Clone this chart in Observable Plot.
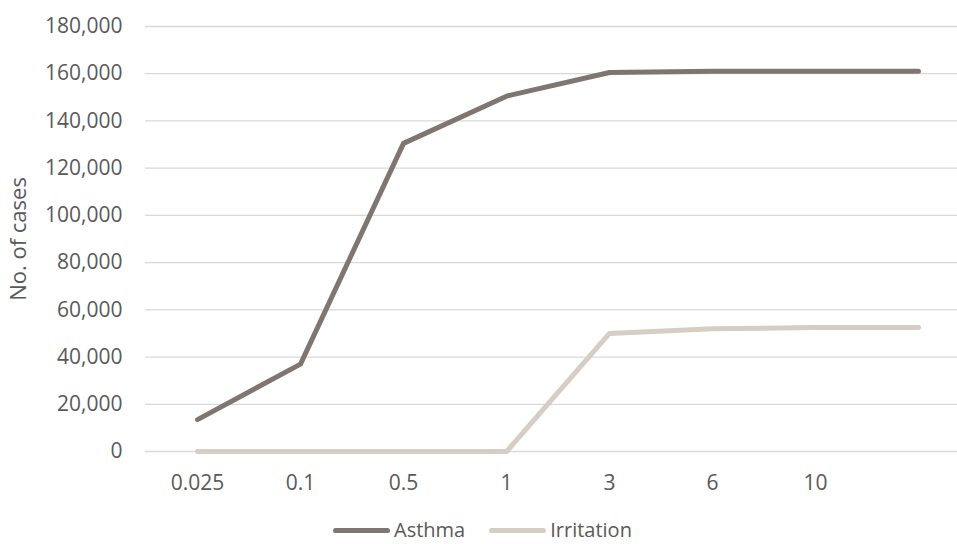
<!DOCTYPE html>
<html>
<head>
<meta charset="utf-8">
<script src="https://cdn.jsdelivr.net/npm/d3@7"></script>
<script src="https://cdn.jsdelivr.net/npm/@observablehq/plot@0.6"></script>
<style>
  html, body { margin: 0; padding: 0; background: #fff; overflow: hidden; }
  #wrap { position: relative; width: 957px; height: 544px; overflow: hidden; font-family: "Open Sans", sans-serif; }
  #legend { position: absolute; left: 333px; top: 520px; height: 20px; line-height: 20px; display: flex; align-items: center; font-size: 20px; color: #595959; }
  .item { display: flex; align-items: center; }
  .sw { width: 57px; height: 5px; border-radius: 3px; margin-right: 4px; }
</style>
</head>
<body>
<div id="wrap"><div id="chart"></div><div id="legend"></div></div>
<script>
// Exposure level categories (last point carries no label)
const doses = ["0.025", "0.1", "0.5", "1", "3", "6", "10", ""];
const asthma = [13500, 37000, 130500, 150500, 160500, 161000, 161000, 161000];
const irritation = [0, 0, 0, 0, 50000, 52000, 52500, 52500];
const yTicks = [0, 20000, 40000, 60000, 80000, 100000, 120000, 140000, 160000, 180000];
const seriesNames = ["Asthma", "Irritation"];
const seriesColors = ["#7f776f", "#d6cec4"];

const rows = [];
doses.forEach((d, i) => {
  rows.push({dose: d, cases: asthma[i], series: "Asthma"});
});
doses.forEach((d, i) => {
  rows.push({dose: d, cases: irritation[i], series: "Irritation"});
});

// The plot frame runs slightly past the right edge of the page
const chart = Plot.plot({
  width: 957,
  height: 515,
  marginLeft: 145,
  marginRight: -12,
  marginTop: 26,
  marginBottom: 64,
  style: {fontFamily: "'Open Sans', sans-serif", fontSize: "21px", color: "#595959", background: "#fff", overflow: "hidden"},
  x: {type: "point", domain: doses, padding: 0.5},
  y: {domain: [0, 180000]},
  color: {domain: seriesNames, range: seriesColors},
  marks: [
    Plot.ruleY(yTicks, {stroke: "#d9d9d9", strokeWidth: 1.3}),
    Plot.axisY({ticks: yTicks, tickSize: 0, tickPadding: 23, tickFormat: d3.format(","), label: null}),
    Plot.axisX({tickSize: 0, tickPadding: 24, label: null}),
    Plot.text(["No. of cases"], {frameAnchor: "left", textAnchor: "middle", rotate: -90, dx: -127, text: d => d, fontSize: 22, fill: "#595959"}),
    Plot.line(rows, {x: "dose", y: "cases", z: "series", stroke: "series", strokeWidth: 5, strokeLinecap: "round", strokeLinejoin: "round"})
  ]
});
document.getElementById("chart").appendChild(chart);

const legend = document.getElementById("legend");
seriesNames.forEach((name, i) => {
  const item = document.createElement("div");
  item.className = "item";
  item.style.marginRight = i === 0 ? "24px" : "0";
  const sw = document.createElement("span");
  sw.className = "sw";
  sw.style.background = seriesColors[i];
  const label = document.createElement("span");
  label.textContent = name;
  item.appendChild(sw);
  item.appendChild(label);
  legend.appendChild(item);
});
</script>
</body>
</html>
